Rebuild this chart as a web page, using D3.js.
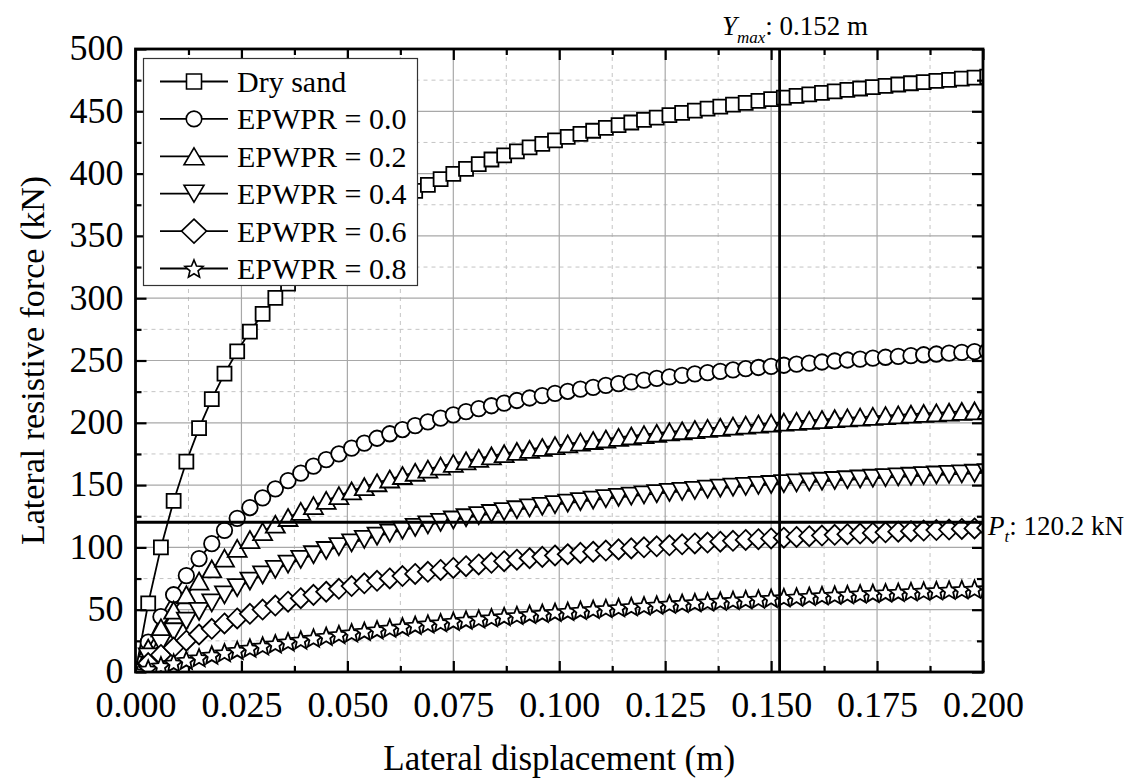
<!DOCTYPE html>
<html>
<head>
<meta charset="utf-8">
<script src="https://cdn.jsdelivr.net/npm/d3@7"></script>
<style>
  body { margin: 0; background: #fff; }
  svg { display: block; }
  svg text { font-family: "Liberation Serif", "Times New Roman", Times, serif !important; fill: #000; }
</style>
</head>
<body>
<svg id="chart" width="1132" height="784"></svg>
<script>
// Lateral displacement of the pile head (m)
const displacement = [0, 0.003, 0.006, 0.009, 0.012, 0.015, 0.018, 0.021, 0.024, 0.027,
  0.030, 0.033, 0.036, 0.039, 0.042, 0.045, 0.048, 0.051, 0.054, 0.057,
  0.060, 0.063, 0.066, 0.069, 0.072, 0.075, 0.078, 0.081, 0.084, 0.087,
  0.090, 0.093, 0.096, 0.099, 0.102, 0.105, 0.108, 0.111, 0.114, 0.117,
  0.120, 0.123, 0.126, 0.129, 0.132, 0.135, 0.138, 0.141, 0.144, 0.147,
  0.150, 0.153, 0.156, 0.159, 0.162, 0.165, 0.168, 0.171, 0.174, 0.177,
  0.180, 0.183, 0.186, 0.189, 0.192, 0.195, 0.198, 0.201];

// Lateral resistive force (kN) for each soil condition
const drySand = [0, 55.1, 100.0, 137.3, 168.8, 195.7, 219.0, 239.4, 257.3, 273.2,
  287.4, 300.2, 311.7, 322.2, 331.8, 340.6, 348.7, 356.1, 363.0, 369.4,
  375.3, 380.9, 386.1, 390.9, 395.5, 399.8, 403.8, 407.6, 411.3, 414.7,
  417.9, 421.0, 423.9, 426.7, 429.4, 431.9, 434.4, 436.7, 438.9, 441.0,
  443.1, 445.0, 446.9, 448.7, 450.5, 452.2, 453.8, 455.3, 456.8, 458.3,
  459.7, 461.0, 462.4, 463.6, 464.8, 466.0, 467.2, 468.3, 469.4, 470.4,
  471.5, 472.5, 473.4, 474.4, 475.3, 476.2, 477.0, 477.9];

const epwpr00 = [0, 24.0, 44.4, 62.0, 77.4, 91.0, 103.0, 113.7, 123.3, 132.0,
  139.8, 147.0, 153.6, 159.6, 165.2, 170.4, 175.1, 179.6, 183.7, 187.6,
  191.2, 194.6, 197.8, 200.8, 203.7, 206.4, 208.9, 211.4, 213.7, 215.8,
  217.9, 219.9, 221.8, 223.6, 225.3, 227.0, 228.5, 230.1, 231.5, 232.9,
  234.3, 235.6, 236.8, 238.0, 239.2, 240.3, 241.3, 242.4, 243.4, 244.4,
  245.3, 246.2, 247.1, 247.9, 248.8, 249.6, 250.4, 251.1, 251.9, 252.6,
  253.3, 253.9, 254.6, 255.2, 255.9, 256.5, 257.1, 257.6];

const epwpr02 = [0, 19.1, 35.5, 49.6, 62.0, 73.0, 82.7, 91.4, 99.2, 106.3,
  112.7, 118.6, 124.0, 128.9, 133.5, 137.7, 141.6, 145.3, 148.7, 151.9,
  154.9, 157.7, 160.3, 162.8, 165.2, 167.4, 169.5, 171.5, 173.4, 175.2,
  177.0, 178.6, 180.2, 181.7, 183.1, 184.5, 185.8, 187.0, 188.3, 189.4,
  190.5, 191.6, 192.7, 193.6, 194.6, 195.5, 196.4, 197.3, 198.1, 199.0,
  199.7, 200.5, 201.2, 201.9, 202.6, 203.3, 204.0, 204.6, 205.2, 205.8,
  206.4, 206.9, 207.5, 208.0, 208.5, 209.1, 209.5, 210.0];

const epwpr04 = [0, 12.1, 22.8, 32.3, 40.9, 48.6, 55.5, 61.9, 67.7, 73.0,
  77.9, 82.4, 86.6, 90.4, 94.1, 97.5, 100.6, 103.6, 106.4, 109.0,
  111.5, 113.8, 116.0, 118.1, 120.1, 122.0, 123.8, 125.5, 127.2, 128.7,
  130.2, 131.7, 133.0, 134.3, 135.6, 136.8, 138.0, 139.1, 140.2, 141.2,
  142.2, 143.1, 144.1, 145.0, 145.8, 146.7, 147.5, 148.3, 149.0, 149.8,
  150.5, 151.2, 151.8, 152.5, 153.1, 153.7, 154.3, 154.9, 155.5, 156.0,
  156.6, 157.1, 157.6, 158.1, 158.6, 159.0, 159.5, 159.9];

const epwpr06 = [0, 7.2, 13.7, 19.6, 25.1, 30.1, 34.7, 39.0, 43.0, 46.7,
  50.1, 53.3, 56.4, 59.2, 61.9, 64.4, 66.8, 69.0, 71.2, 73.2,
  75.1, 77.0, 78.7, 80.4, 81.9, 83.5, 84.9, 86.3, 87.6, 88.9,
  90.1, 91.3, 92.4, 93.5, 94.5, 95.6, 96.5, 97.5, 98.4, 99.2,
  100.1, 100.9, 101.7, 102.5, 103.2, 103.9, 104.6, 105.3, 106.0, 106.6,
  107.2, 107.8, 108.4, 109.0, 109.5, 110.1, 110.6, 111.1, 111.6, 112.1,
  112.6, 113.0, 113.5, 113.9, 114.3, 114.8, 115.2, 115.6];

const epwpr08 = [0, 2.5, 5.0, 7.3, 9.5, 11.6, 13.7, 15.6, 17.5, 19.3,
  21.0, 22.7, 24.3, 25.8, 27.3, 28.8, 30.2, 31.5, 32.8, 34.0,
  35.3, 36.4, 37.6, 38.7, 39.7, 40.8, 41.8, 42.7, 43.7, 44.6,
  45.5, 46.4, 47.2, 48.0, 48.8, 49.6, 50.4, 51.1, 51.8, 52.6,
  53.2, 53.9, 54.6, 55.2, 55.8, 56.4, 57.0, 57.6, 58.2, 58.7,
  59.3, 59.8, 60.3, 60.9, 61.4, 61.8, 62.3, 62.8, 63.3, 63.7,
  64.1, 64.6, 65.0, 65.4, 65.8, 66.2, 66.6, 67.0];

const seriesNames = ["Dry sand", "EPWPR = 0.0", "EPWPR = 0.2", "EPWPR = 0.4", "EPWPR = 0.6", "EPWPR = 0.8"];
const seriesValues = [drySand, epwpr00, epwpr02, epwpr04, epwpr06, epwpr08];
const seriesSymbols = ["square", "circle", "triangleUp", "triangleDown", "diamond", "star"];

const xTicks = [0, 0.025, 0.05, 0.075, 0.1, 0.125, 0.15, 0.175, 0.2];
const yTicks = [0, 50, 100, 150, 200, 250, 300, 350, 400, 450, 500];

const yieldDisplacement = 0.152;   // Y_max (m)
const thresholdForce = 120.2;      // P_t (kN)

const SERIF = '"Liberation Serif", "Times New Roman", Times, serif';

// ---- layout ----
const svg = d3.select("#chart");
const plot = { left: 135.5, right: 983, top: 49, bottom: 672 };

const x = d3.scaleLinear().domain([0, 0.2]).range([plot.left, plot.right]);
const y = d3.scaleLinear().domain([0, 500]).range([plot.bottom, plot.top]);

const xMinor = d3.range(0, 8).map(i => 0.0125 + i * 0.025);
const yMinor = d3.range(0, 10).map(i => 25 + i * 50);

// ---- grid ----
const grid = svg.append("g");
grid.selectAll(".gxm").data(xMinor).join("line")
  .attr("x1", d => x(d)).attr("x2", d => x(d))
  .attr("y1", plot.top).attr("y2", plot.bottom)
  .attr("stroke", "#c4c4c4").attr("stroke-width", 1).attr("stroke-dasharray", "4,4");
grid.selectAll(".gym").data(yMinor).join("line")
  .attr("x1", plot.left).attr("x2", plot.right)
  .attr("y1", d => y(d)).attr("y2", d => y(d))
  .attr("stroke", "#c4c4c4").attr("stroke-width", 1).attr("stroke-dasharray", "4,4");
grid.selectAll(".gx").data(xTicks.slice(1, -1)).join("line")
  .attr("x1", d => x(d)).attr("x2", d => x(d))
  .attr("y1", plot.top).attr("y2", plot.bottom)
  .attr("stroke", "#a8a8a8").attr("stroke-width", 1.2);
grid.selectAll(".gy").data(yTicks.slice(1, -1)).join("line")
  .attr("x1", plot.left).attr("x2", plot.right)
  .attr("y1", d => y(d)).attr("y2", d => y(d))
  .attr("stroke", "#a8a8a8").attr("stroke-width", 1.2);

// ---- marker shapes (w = width, h = height, centred on the point) ----
function symbolPath(type, w, hgt) {
  const a = w / 2, b = (hgt || w) / 2;
  switch (type) {
    case "square": return `M${-a},${-a}H${a}V${a}H${-a}Z`;
    case "circle": return `M${a},0A${a},${a} 0 1,1 ${-a},0A${a},${a} 0 1,1 ${a},0Z`;
    case "triangleUp": return `M0,${-b}L${a},${b}L${-a},${b}Z`;
    case "triangleDown": return `M0,${b}L${a},${-b}L${-a},${-b}Z`;
    case "diamond": return `M0,${-b}L${a},0L0,${b}L${-a},0Z`;
    case "star": {
      const pts = [];
      for (let k = 0; k < 10; k++) {
        const r = k % 2 === 0 ? a : a * 0.45;
        const ang = -Math.PI / 2 + k * Math.PI / 5;
        pts.push([r * Math.cos(ang), r * Math.sin(ang) + a * 0.1]);
      }
      return "M" + pts.map(p => p[0].toFixed(2) + "," + p[1].toFixed(2)).join("L") + "Z";
    }
  }
}
const plotSize = {
  square: [14], circle: [15.5], triangleUp: [19, 17], triangleDown: [19, 17],
  diamond: [20, 20], star: [19]
};
const legendSize = {
  square: [15], circle: [15.5], triangleUp: [20, 17], triangleDown: [20, 17],
  diamond: [25, 24], star: [19]
};

// ---- series ----
svg.append("defs").append("clipPath").attr("id", "plotClip")
  .append("rect").attr("x", plot.left).attr("y", plot.top)
  .attr("width", plot.right - plot.left).attr("height", plot.bottom - plot.top);

const seriesLayer = svg.append("g").attr("clip-path", "url(#plotClip)");
const line = d3.line().x(d => x(d[0])).y(d => y(d[1]));

seriesValues.forEach((vals, si) => {
  const pts = displacement.map((d, i) => [d, vals[i]]);
  const g = seriesLayer.append("g");
  g.append("path").datum(pts).attr("d", line)
    .attr("fill", "none").attr("stroke", "#000").attr("stroke-width", 1.8);
  const sym = seriesSymbols[si];
  const shape = symbolPath(sym, ...plotSize[sym]);
  g.selectAll("path.m").data(pts).join("path").attr("class", "m")
    .attr("d", shape)
    .attr("transform", d => `translate(${x(d[0])},${y(d[1])})`)
    .attr("fill", "#fff").attr("stroke", "#000").attr("stroke-width", 1.8)
    .attr("stroke-linejoin", "miter");
});

// ---- reference lines ----
svg.append("line")
  .attr("x1", x(yieldDisplacement)).attr("x2", x(yieldDisplacement))
  .attr("y1", plot.top).attr("y2", plot.bottom)
  .attr("stroke", "#000").attr("stroke-width", 2.8);
svg.append("line")
  .attr("x1", plot.left).attr("x2", plot.right)
  .attr("y1", y(thresholdForce)).attr("y2", y(thresholdForce))
  .attr("stroke", "#000").attr("stroke-width", 2.8);

// ---- axes (ticks inside, mirrored on all four sides) ----
function styleAxis(g) {
  g.attr("font-family", SERIF);
  g.select(".domain").remove();
  g.selectAll(".tick line").attr("stroke", "#000").attr("stroke-width", 2.2);
}
const xFmt = d3.format(".3f");

svg.append("g").attr("transform", `translate(0,${plot.bottom})`)
  .call(d3.axisBottom(x).tickValues(xTicks).tickSizeInner(-11).tickSizeOuter(0).tickPadding(19).tickFormat(xFmt))
  .call(styleAxis)
  .call(g => g.selectAll("text").style("font-family", SERIF).attr("font-size", 36));
svg.append("g").attr("transform", `translate(0,${plot.bottom})`)
  .call(d3.axisBottom(x).tickValues(xMinor).tickSizeInner(-6).tickSizeOuter(0).tickFormat(""))
  .call(styleAxis);
svg.append("g").attr("transform", `translate(0,${plot.top})`)
  .call(d3.axisTop(x).tickValues(xTicks).tickSizeInner(-11).tickSizeOuter(0).tickFormat(""))
  .call(styleAxis);
svg.append("g").attr("transform", `translate(0,${plot.top})`)
  .call(d3.axisTop(x).tickValues(xMinor).tickSizeInner(-6).tickSizeOuter(0).tickFormat(""))
  .call(styleAxis);

svg.append("g").attr("transform", `translate(${plot.left},0)`)
  .call(d3.axisLeft(y).tickValues(yTicks).tickSizeInner(-11).tickSizeOuter(0).tickPadding(12).tickFormat(d3.format("d")))
  .call(styleAxis)
  .call(g => g.selectAll("text").style("font-family", SERIF).attr("font-size", 36).attr("dy", "0.3em"));
svg.append("g").attr("transform", `translate(${plot.left},0)`)
  .call(d3.axisLeft(y).tickValues(yMinor).tickSizeInner(-6).tickSizeOuter(0).tickFormat(""))
  .call(styleAxis);
svg.append("g").attr("transform", `translate(${plot.right},0)`)
  .call(d3.axisRight(y).tickValues(yTicks).tickSizeInner(-11).tickSizeOuter(0).tickFormat(""))
  .call(styleAxis);
svg.append("g").attr("transform", `translate(${plot.right},0)`)
  .call(d3.axisRight(y).tickValues(yMinor).tickSizeInner(-6).tickSizeOuter(0).tickFormat(""))
  .call(styleAxis);

// frame
svg.append("rect")
  .attr("x", plot.left).attr("y", plot.top)
  .attr("width", plot.right - plot.left).attr("height", plot.bottom - plot.top)
  .attr("fill", "none").attr("stroke", "#000").attr("stroke-width", 2.8);

// ---- axis titles ----
svg.append("text")
  .attr("x", (plot.left + plot.right) / 2).attr("y", 770)
  .attr("text-anchor", "middle").attr("font-size", 35)
  .style("font-family", SERIF)
  .text("Lateral displacement (m)");
svg.append("text")
  .attr("transform", `translate(44,${(plot.top + plot.bottom) / 2}) rotate(-90)`)
  .attr("text-anchor", "middle").attr("font-size", 34)
  .style("font-family", SERIF)
  .text("Lateral resistive force (kN)");

// ---- reference labels ----
const yLabel = svg.append("text").attr("x", 722).attr("y", 35).attr("font-size", 27).style("font-family", SERIF);
yLabel.append("tspan").attr("font-style", "italic").text("Y");
yLabel.append("tspan").attr("font-style", "italic").attr("font-size", 17).attr("dy", 8).text("max");
yLabel.append("tspan").attr("dy", -8).text(": 0.152 m");

const pLabel = svg.append("text").attr("x", 988).attr("y", 535).attr("font-size", 27).style("font-family", SERIF);
pLabel.append("tspan").attr("font-style", "italic").text("P");
pLabel.append("tspan").attr("font-style", "italic").attr("font-size", 17).attr("dy", 7).text("t");
pLabel.append("tspan").attr("dy", -7).text(": 120.2 kN");

// ---- legend ----
const legend = svg.append("g");
legend.append("rect")
  .attr("x", 143.5).attr("y", 58.5).attr("width", 274).attr("height", 227)
  .attr("fill", "#fff").attr("stroke", "#333").attr("stroke-width", 1.2);
const rowY = d3.scaleLinear().domain([0, 5]).range([81.5, 268.5]);
seriesNames.forEach((name, i) => {
  const cy = rowY(i);
  const sym = seriesSymbols[i];
  legend.append("line").attr("x1", 160).attr("x2", 228).attr("y1", cy).attr("y2", cy)
    .attr("stroke", "#000").attr("stroke-width", 1.8);
  legend.append("path").attr("d", symbolPath(sym, ...legendSize[sym]))
    .attr("transform", `translate(194,${cy})`)
    .attr("fill", "#fff").attr("stroke", "#000").attr("stroke-width", 1.6);
  legend.append("text").attr("x", 237).attr("y", cy + 10.5).attr("font-size", 30)
    .style("font-family", SERIF).text(name);
});
</script>
</body>
</html>
